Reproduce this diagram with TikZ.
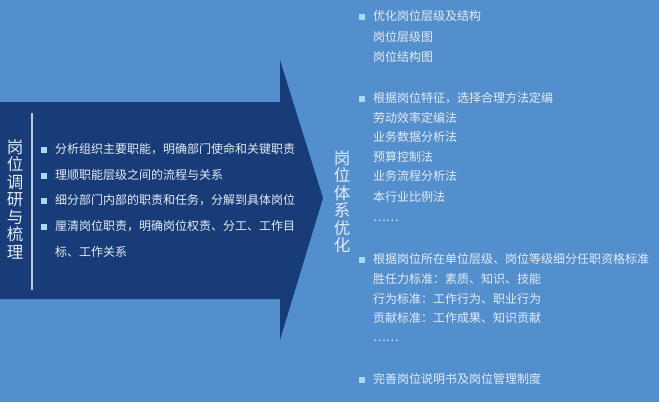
\documentclass[tikz,border=0pt]{standalone}
\usepackage{fontspec}
\newfontfamily\cjk{Noto Sans CJK SC}
\definecolor{bg}{RGB}{84,143,205}
\definecolor{navy}{RGB}{24,60,120}
\definecolor{txt}{RGB}{228,235,244}
\definecolor{bul}{RGB}{165,218,242}
\tikzset{
  line/.style={anchor=west, inner sep=0pt, text=txt, font=\cjk\fontsize{12}{12}\selectfont, text height=9.8pt, text depth=2pt},
  bulletbox/.style={fill=bul, minimum size=6pt, inner sep=0pt},
  vtitle/.style={inner sep=0pt, text=txt, align=center, font=\cjk\fontsize{16.5}{17.5}\selectfont},
}
\begin{document}
\begin{tikzpicture}[x=1pt,y=-1pt]
\fill[bg] (0,0) rectangle (659,402);
\useasboundingbox (0,0) rectangle (659,402);
% arrow
\fill[navy] (0,102) -- (280,102) -- (280,60) -- (323,198) -- (280,340) -- (280,299) -- (0,299) -- cycle;
% left title
\node[vtitle] (ltitle) at (15,199) {岗\\位\\调\\研\\与\\梳\\理};
\coordinate (vtop) at (32,113);
\coordinate (vbot) at (32,290);
\draw[txt!80!navy, line width=1.3pt] (vtop) -- (vbot);
% left bullets
\node[bulletbox] (lb1) at (44,150) {};
\node[line] (l1) at (55,150) {分析组织主要职能，明确部门使命和关键职责};
\node[bulletbox] (lb2) at (44,175.5) {};
\node[line] (l2) at (55,175.5) {理顺职能层级之间的流程与关系};
\node[bulletbox] (lb3) at (44,201) {};
\node[line] (l3) at (55,201) {细分部门内部的职责和任务，分解到具体岗位};
\node[bulletbox] (lb4) at (44,227) {};
\node[line] (l4) at (55,227) {厘清岗位职责，明确岗位权责、分工、工作目};
\node[line] (l5) at (55,253) {标、工作关系};
% right title
\node[vtitle] (rtitle) at (342,201.5) {岗\\位\\体\\系\\优\\化};
% right section 1
\node[bulletbox] (rb1) at (362,17) {};
\node[line] (r11) at (373,17) {优化岗位层级及结构};
\node[line] (r12) at (373,37.5) {岗位层级图};
\node[line] (r13) at (373,58) {岗位结构图};
% right section 2
\node[bulletbox] (rb2) at (362,99) {};
\node[line] (r21) at (373,99) {根据岗位特征，选择合理方法定编};
\node[line] (r22) at (373,118.5) {劳动效率定编法};
\node[line] (r23) at (373,138) {业务数据分析法};
\node[line] (r24) at (373,157.5) {预算控制法};
\node[line] (r25) at (373,177) {业务流程分析法};
\node[line] (r26) at (373,197.5) {本行业比例法};
\node[line] (r27) at (373,218) {……};
% right section 3
\node[bulletbox] (rb3) at (362,260) {};
\node[line] (r31) at (373,260) {根据岗位所在单位层级、岗位等级细分任职资格标准};
\node[line] (r32) at (373,280) {胜任力标准：素质、知识、技能};
\node[line] (r33) at (373,299.5) {行为标准：工作行为、职业行为};
\node[line] (r34) at (373,319) {贡献标准：工作成果、知识贡献};
\node[line] (r35) at (373,338) {……};
% right section 4
\node[bulletbox] (rb4) at (362,380) {};
\node[line] (r41) at (373,380) {完善岗位说明书及岗位管理制度};
\end{tikzpicture}
\end{document}
